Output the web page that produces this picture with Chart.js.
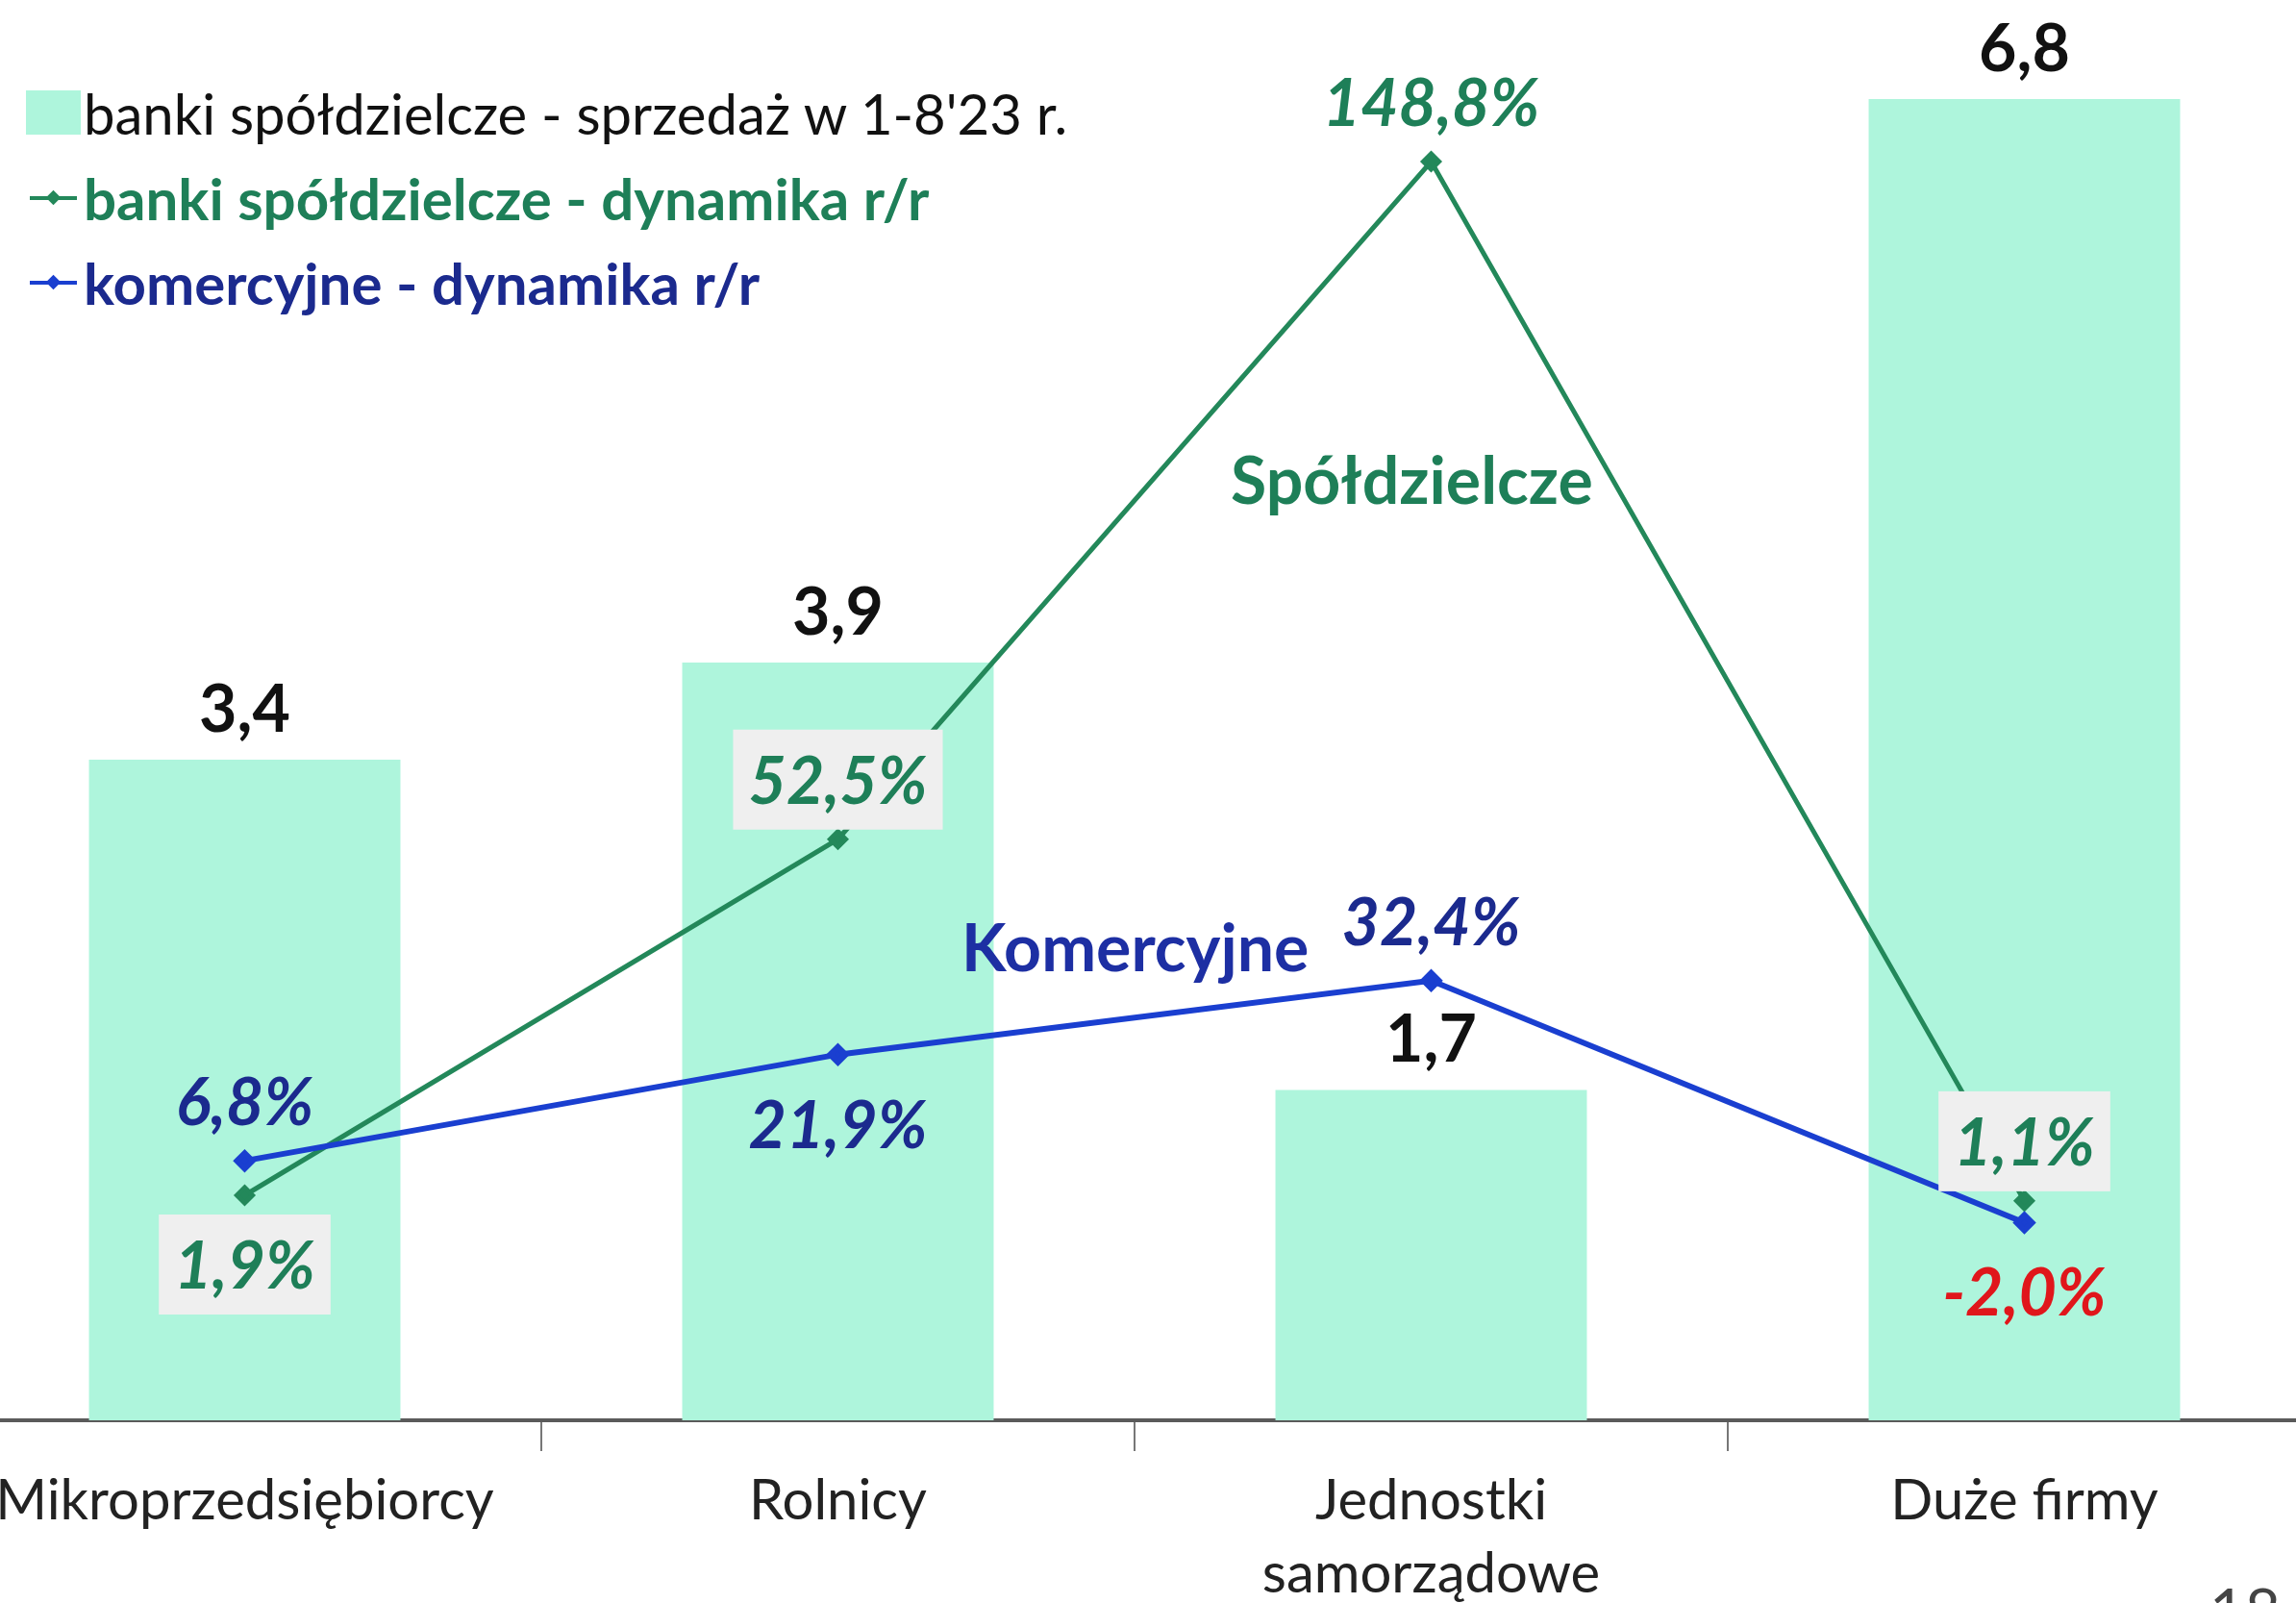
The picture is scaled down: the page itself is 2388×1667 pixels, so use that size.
<!DOCTYPE html>
<html>
<head>
<meta charset="utf-8">
<script src="https://cdn.jsdelivr.net/npm/chart.js@4"></script>
<style>
  html, body { margin: 0; padding: 0; background: #fff; overflow: hidden; width: 2388px; height: 1667px; }
  #wrap { position: absolute; left: -54px; top: 0; width: 2468px; height: 1689px; }
  .txt { position: absolute; font-family: Lato, sans-serif; white-space: nowrap; line-height: 1; }
  .legend-row { position: absolute; left: 27px; height: 60px; display: flex; align-items: center; font-family: Lato, sans-serif; white-space: nowrap; }
  .sq { width: 57px; height: 46px; background: #aef5dc; margin-right: 3px; }
  .ln { position: relative; width: 57px; height: 46px; margin-right: 3px; }
  .ln::before { content: ''; position: absolute; left: 4px; right: 4px; top: 21px; height: 4px; background: currentColor; }
  .ln::after { content: ''; position: absolute; left: 23px; top: 17px; width: 11px; height: 11px; background: currentColor; transform: rotate(45deg); }
</style>
</head>
<body>
<div id="wrap"><canvas id="chart"></canvas></div>

<div class="legend-row" style="top:87px;color:#111;font-size:58px"><div class="sq"></div>banki spółdzielcze - sprzedaż w 1-8'23 r.</div>
<div class="legend-row" style="top:176px;color:#1e7f58;font-weight:bold;font-size:60px"><div class="ln" style="color:#23885a"></div>banki spółdzielcze - dynamika r/r</div>
<div class="legend-row" style="top:264px;color:#1b2a8e;font-weight:bold;font-size:60px"><div class="ln" style="color:#1a3fd0"></div>komercyjne - dynamika r/r</div>

<div class="txt" style="left:1280px;top:464px;font-size:68px;font-weight:bold;color:#1e7f58">Spółdzielcze</div>
<div class="txt" style="left:1000px;top:950px;font-size:68px;font-weight:bold;color:#1d2fa3">Komercyjne</div>
<div class="txt" style="left:2298px;top:1642px;font-size:64px;color:#444">18</div>

<script>
// categories and values
const categories = ['Mikroprzedsiębiorcy', 'Rolnicy', ['Jednostki', 'samorządowe'], 'Duże firmy'];
const salesCoop = [3.4, 3.9, 1.7, 6.8];          // mld zł, bars
const growthCoop = [1.9, 52.5, 148.8, 1.1];      // % r/r, green line
const growthComm = [6.8, 21.9, 32.4, -2.0];      // % r/r, blue line

const fmt = (v, d) => v.toFixed(d).replace('.', ',');

// where each value label sits relative to its mark
const labelCfg = {
    0: { pos: ['top', 'top', 'top', 'top'], font: 'bold 68px Lato', color: () => '#111', text: v => fmt(v, 1) },
    1: { pos: ['below', 'above', 'above', 'above'], font: 'italic bold 68px Lato', color: () => '#1e7f58',
         box: [true, true, false, true], text: v => fmt(v, 1) + '%' },
    2: { pos: ['above', 'below', 'above', 'below'], font: 'italic bold 68px Lato',
         color: v => v < 0 ? '#e0161b' : '#1b2a8e', text: v => fmt(v, 1) + '%' }
};

const valueLabels = {
    id: 'valueLabels',
    afterDatasetsDraw(chart) {
        const ctx = chart.ctx;
        ctx.save();
        ctx.textAlign = 'center';
        ctx.textBaseline = 'middle';
        chart.data.datasets.forEach((ds, i) => {
            const cfg = labelCfg[i];
            const meta = chart.getDatasetMeta(i);
            meta.data.forEach((el, j) => {
                const v = ds.data[j];
                const p = cfg.pos[j];
                let y = el.y;
                if (p === 'top') y -= 54;
                else if (p === 'above') y -= 62;
                else y += 72;
                const t = cfg.text(v);
                ctx.font = cfg.font;
                if (cfg.box && cfg.box[j]) {
                    const w = ctx.measureText(t).width + 32;
                    ctx.fillStyle = '#efefef';
                    ctx.fillRect(el.x - w / 2, y - 52, w, 104);
                }
                ctx.fillStyle = cfg.color(v);
                ctx.fillText(t, el.x, y + 3);
            });
        });
        ctx.restore();
    }
};

const ctx = document.getElementById('chart').getContext('2d');
new Chart(ctx, {
    data: {
        labels: categories,
        datasets: [
            {
                type: 'bar',
                label: "banki spółdzielcze - sprzedaż w 1-8'23 r.",
                data: salesCoop,
                backgroundColor: '#aef5dc',
                barPercentage: 0.525,
                categoryPercentage: 1,
                yAxisID: 'y',
                order: 3
            },
            {
                type: 'line',
                label: 'banki spółdzielcze - dynamika r/r',
                data: growthCoop,
                borderColor: '#23885a',
                backgroundColor: '#23885a',
                borderWidth: 5,
                pointStyle: 'rectRot',
                pointRadius: 8,
                yAxisID: 'y2',
                order: 2
            },
            {
                type: 'line',
                label: 'komercyjne - dynamika r/r',
                data: growthComm,
                borderColor: '#1a3fd0',
                backgroundColor: '#1a3fd0',
                borderWidth: 6,
                pointStyle: 'rectRot',
                pointRadius: 8,
                yAxisID: 'y2',
                order: 1
            }
        ]
    },
    options: {
        responsive: true,
        maintainAspectRatio: false,
        animation: false,
        layout: { padding: 0, autoPadding: false },
        plugins: {
            legend: { display: false },
            tooltip: { enabled: false }
        },
        scales: {
            x: {
                offset: true,
                grid: { display: true, offset: true, drawOnChartArea: false, drawTicks: true, tickLength: 32, color: '#777', lineWidth: 2 },
                border: { display: true, color: '#5a5a5a', width: 4 },
                ticks: {
                    maxRotation: 0,
                    autoSkip: false,
                    padding: 14,
                    color: '#222',
                    font: { family: 'Lato', size: 58, lineHeight: 1.31 }
                }
            },
            y: { display: false, min: 0, max: 7.31 },
            y2: { display: false, min: -30.08, max: 171.76 }
        }
    },
    plugins: [valueLabels]
});
</script>
</body>
</html>
